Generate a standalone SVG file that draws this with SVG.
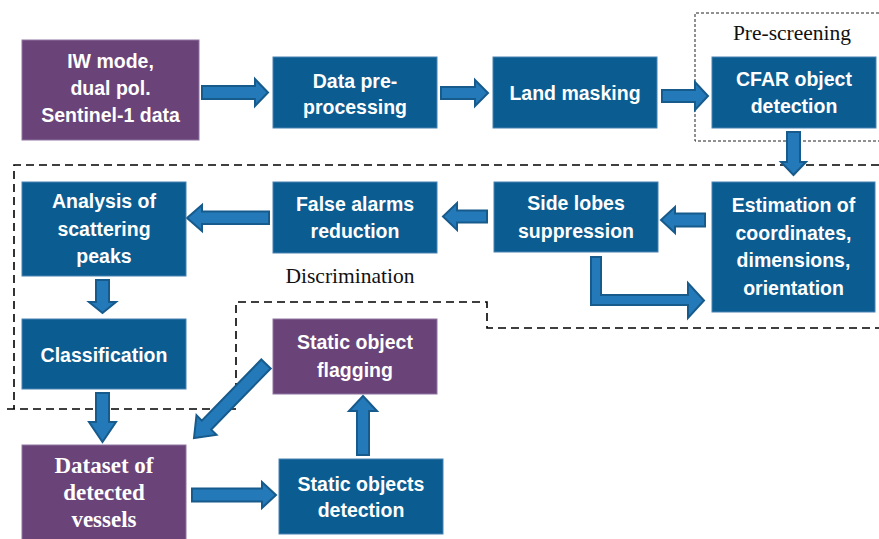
<svg xmlns="http://www.w3.org/2000/svg" width="879" height="539" viewBox="0 0 879 539">
<style>
.bb{fill:#0b5c90;stroke:#4a82b4;stroke-width:1}
.pb{fill:#6a4478;stroke:#8f74a0;stroke-width:1}
.t{font-family:"Liberation Sans",Arial,sans-serif;font-weight:bold;font-size:19.5px;fill:#fff;text-anchor:middle}
.ts{font-family:"Liberation Serif","Times New Roman",serif;font-weight:bold;font-size:23px;fill:#fff;text-anchor:middle}
.lab{font-family:"Liberation Serif","Times New Roman",serif;font-size:21.5px;fill:#111;text-anchor:middle}
.ar{fill:#2479b9;stroke:#175a8c;stroke-width:2;stroke-linejoin:miter}
.d1{fill:none;stroke:#000;stroke-width:1.6;stroke-dasharray:8 5}
.d2{fill:none;stroke:#222;stroke-width:1;stroke-dasharray:3 2}
</style>
<rect width="879" height="539" fill="#fff"/>
<g id="regions">
<path class="d2" d="M879,13 H695 V141 H879"/>
<text class="lab" x="792" y="40">Pre-screening</text>
<path class="d1" d="M879,165 H14 V409 M7,409 H236 V302 H487 V328 H879"/>
<text class="lab" x="350" y="283">Discrimination</text>
</g>
<g id="connectors">
<polygon class="ar" points="202,86 255,86 255,79 268,92.5 255,106 255,99 202,99"/>
<polygon class="ar" points="441,87 475,87 475,80 488,93 475,106 475,99 441,99"/>
<polygon class="ar" points="662,90 695,90 695,82 708,96 695,110 695,102 662,102"/>
<polygon class="ar" points="787,132 800,132 800,162 806,162 793.5,175 781,162 787,162"/>
<polygon class="ar" points="705,213.5 675,213.5 675,207 661,220 675,233 675,226.5 705,226.5"/>
<polygon class="ar" points="487,210.5 457,210.5 457,203 443,216.5 457,230 457,222.5 487,222.5"/>
<polygon class="ar" points="269,211.5 202,211.5 202,205 187,218 202,231 202,224 269,224"/>
<polygon class="ar" points="96,280 109,280 109,302 116,302 102.5,313 89,302 96,302"/>
<polygon class="ar" points="96,393 109,393 109,422 116,422 102.5,442 89,422 96,422"/>
<polygon class="ar" points="192,488.5 262,488.5 262,482 276,495 262,508 262,501.5 192,501.5"/>
<polygon class="ar" points="357,455 369,455 369,411 377,411 363,396 349,411 357,411"/>
<polygon class="ar" points="591,257 601,257 601,295 688,295 688,283 704,300.5 688,318 688,305 591,305"/>
<polygon class="ar" points="261.3,359.5 201.8,420.6 196.5,415.3 194,438 216.5,434.9 211.2,429.6 270.7,368.5"/>
</g>
<g id="n-input">
<rect class="pb" x="22" y="40" width="177" height="100"/>
<text class="t" x="110.5" y="68">IW mode,</text>
<text class="t" x="110.5" y="95">dual pol.</text>
<text class="t" x="110.5" y="122">Sentinel-1 data</text>
</g>
<g id="n-preproc">
<rect class="bb" x="273" y="57" width="164" height="71"/>
<text class="t" x="355" y="88">Data pre-</text>
<text class="t" x="355" y="114">processing</text>
</g>
<g id="n-land">
<rect class="bb" x="493" y="57" width="164" height="71"/>
<text class="t" x="575" y="100">Land masking</text>
</g>
<g id="n-cfar">
<rect class="bb" x="712" y="57" width="164" height="71"/>
<text class="t" x="794" y="86">CFAR object</text>
<text class="t" x="794" y="113">detection</text>
</g>
<g id="n-estim">
<rect class="bb" x="712" y="182" width="163" height="130"/>
<text class="t" x="793.5" y="212">Estimation of</text>
<text class="t" x="793.5" y="240">coordinates,</text>
<text class="t" x="793.5" y="267">dimensions,</text>
<text class="t" x="793.5" y="295">orientation</text>
</g>
<g id="n-sidelobes">
<rect class="bb" x="494" y="182" width="164" height="70"/>
<text class="t" x="576" y="210">Side lobes</text>
<text class="t" x="576" y="238">suppression</text>
</g>
<g id="n-false">
<rect class="bb" x="273" y="182" width="164" height="71"/>
<text class="t" x="355" y="211">False alarms</text>
<text class="t" x="355" y="238">reduction</text>
</g>
<g id="n-analysis">
<rect class="bb" x="22" y="182" width="164" height="94"/>
<text class="t" x="104" y="208">Analysis of</text>
<text class="t" x="104" y="236">scattering</text>
<text class="t" x="104" y="263">peaks</text>
</g>
<g id="n-class">
<rect class="bb" x="22" y="319" width="164" height="70"/>
<text class="t" x="104" y="362">Classification</text>
</g>
<g id="n-flag">
<rect class="pb" x="273" y="319" width="164" height="75"/>
<text class="t" x="355" y="349">Static object</text>
<text class="t" x="355" y="377">flagging</text>
</g>
<g id="n-dataset">
<rect class="pb" x="22" y="445" width="164" height="100"/>
<text class="ts" x="104" y="473">Dataset of</text>
<text class="ts" x="104" y="500">detected</text>
<text class="ts" x="104" y="527">vessels</text>
</g>
<g id="n-staticdet">
<rect class="bb" x="279" y="459" width="164" height="75"/>
<text class="t" x="361" y="491">Static objects</text>
<text class="t" x="361" y="517">detection</text>
</g>
</svg>
